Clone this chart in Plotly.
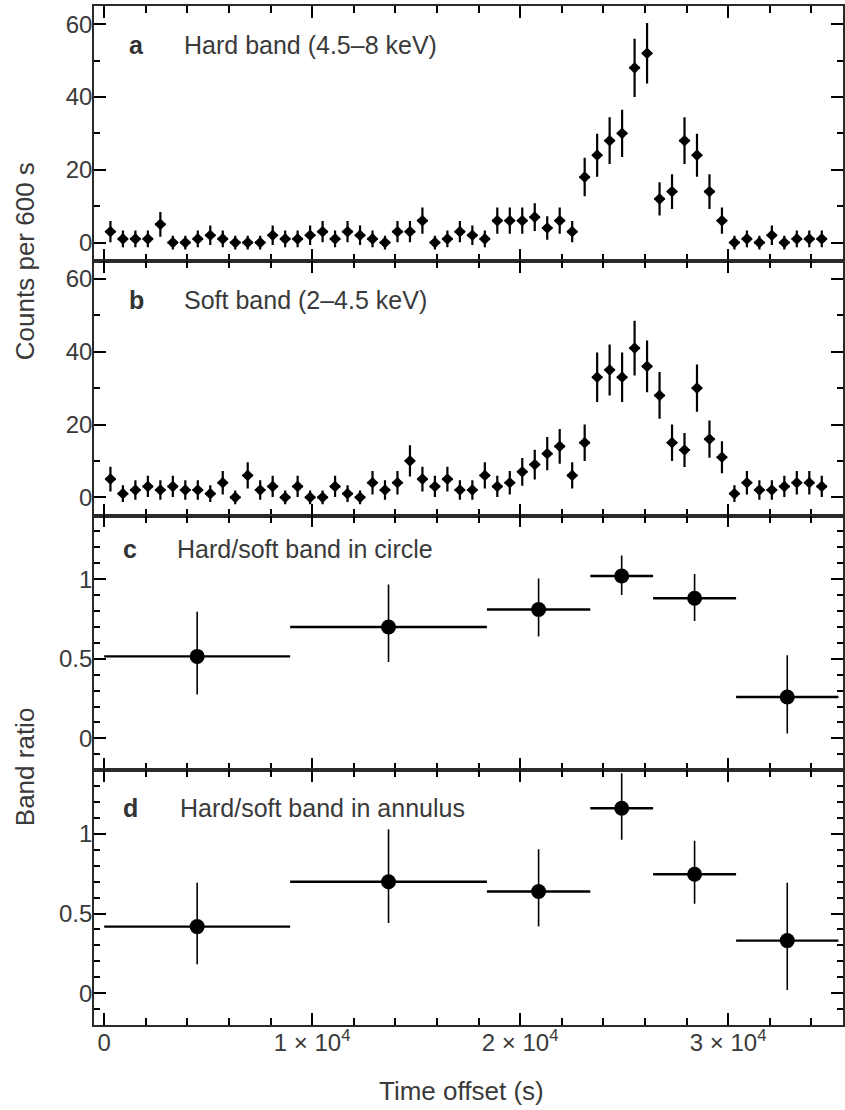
import plotly.graph_objects as go
from plotly.subplots import make_subplots

# ---------------- data ----------------
time_bins = [300, 900, 1500, 2100, 2700, 3300, 3900, 4500, 5100, 5700,
             6300, 6900, 7500, 8100, 8700, 9300, 9900, 10500, 11100, 11700,
             12300, 12900, 13500, 14100, 14700, 15300, 15900, 16500, 17100, 17700,
             18300, 18900, 19500, 20100, 20700, 21300, 21900, 22500, 23100, 23700,
             24300, 24900, 25500, 26100, 26700, 27300, 27900, 28500, 29100, 29700,
             30300, 30900, 31500, 32100, 32700, 33300, 33900, 34500]

hard_counts = [3, 1, 1, 1, 5, 0, 0, 1, 2, 1,
               0, 0, 0, 2, 1, 1, 2, 3, 1, 3,
               2, 1, 0, 3, 3, 6, 0, 1, 3, 2,
               1, 6, 6, 6, 7, 4, 6, 3, 18, 24,
               28, 30, 48, 52, 12, 14, 28, 24, 14, 6,
               0, 1, 0, 2, 0, 1, 1, 1]
hard_err = [2.9, 2.3, 2.3, 2.3, 3.4, 1.9, 1.9, 2.3, 2.7, 2.3,
            1.9, 1.9, 1.9, 2.7, 2.3, 2.3, 2.7, 2.9, 2.3, 2.9,
            2.7, 2.3, 1.9, 2.9, 2.9, 3.6, 1.9, 2.3, 2.9, 2.7,
            2.3, 3.6, 3.6, 3.6, 3.8, 3.2, 3.6, 2.9, 5.3, 5.9,
            6.4, 6.5, 8.0, 8.3, 4.6, 4.8, 6.4, 5.9, 4.8, 3.6,
            1.9, 2.3, 1.9, 2.7, 1.9, 2.3, 2.3, 2.3]

soft_counts = [5, 1, 2, 3, 2, 3, 2, 2, 1, 4,
               0, 6, 2, 3, 0, 3, 0, 0, 3, 1,
               0, 4, 2, 4, 10, 5, 3, 5, 2, 2,
               6, 3, 4, 7, 9, 12, 14, 6, 15, 33,
               35, 33, 41, 36, 28, 15, 13, 30, 16, 11,
               1, 4, 2, 2, 3, 4, 4, 3]
soft_err = [3.4, 2.3, 2.7, 2.9, 2.7, 2.9, 2.7, 2.7, 2.3, 3.2,
            1.9, 3.6, 2.7, 2.9, 1.9, 2.9, 1.9, 1.9, 2.9, 2.3,
            1.9, 3.2, 2.7, 3.2, 4.3, 3.4, 2.9, 3.4, 2.7, 2.7,
            3.6, 2.9, 3.2, 3.8, 4.1, 4.6, 4.8, 3.6, 5.0, 6.8,
            7.0, 6.8, 7.5, 7.1, 6.4, 5.0, 4.7, 6.5, 5.1, 4.4,
            2.3, 3.2, 2.7, 2.7, 2.9, 3.2, 3.2, 2.9]
count_halfwidth = [250] * 58

ratio_t = [4470, 13670, 20885, 24880, 28385, 32840]
ratio_halfwidth = [4470, 4730, 2485, 1510, 1995, 2460]

circle_ratio = [0.515, 0.70, 0.81, 1.02, 0.88, 0.26]
circle_err_up = [0.28, 0.266, 0.195, 0.128, 0.153, 0.262]
circle_err_dn = [0.24, 0.22, 0.17, 0.12, 0.143, 0.229]

annulus_ratio = [0.418, 0.70, 0.638, 1.161, 0.747, 0.33]
annulus_err_up = [0.276, 0.33, 0.266, 0.22, 0.21, 0.364]
annulus_err_dn = [0.236, 0.26, 0.22, 0.198, 0.186, 0.31]

x_tick_vals = [0, 10000, 20000, 30000]
x_tick_text = ["0", "1 × 10<sup>4</sup>", "2 × 10<sup>4</sup>", "3 × 10<sup>4</sup>"]

panel_labels = ["a", "b", "c", "d"]
panel_titles = ["Hard band (4.5–8 keV)", "Soft band (2–4.5 keV)",
                "Hard/soft band in circle", "Hard/soft band in annulus"]

# ---------------- style ----------------
FONT = "Liberation Sans, Arial, Helvetica, sans-serif"
TXT = "#3a3a3a"
LINE = "#2a2a2a"
W, H = 845, 1110
ML, MR, MT, MB = 94, 0, 6, 85
PW, PH = W - ML - MR, H - MT - MB
XRANGE = [-490, 35520]
YRANGES = [[-5, 65], [-5, 65], [-0.2, 1.4], [-0.2, 1.4]]
YMAJOR = [20, 20, 0.5, 0.5]
YMINOR = [10, 10, 0.1, 0.1]


def px_x(px):
    return (px - ML) / PW


def px_y(py):
    return (H - MB - py) / PH


fig = make_subplots(rows=4, cols=1, shared_xaxes=True, vertical_spacing=0)

for i, (cnt, err) in enumerate([(hard_counts, hard_err), (soft_counts, soft_err)]):
    fig.add_trace(go.Scatter(
        x=time_bins, y=cnt, mode="markers",
        marker=dict(symbol="diamond", size=9, color="black"),
        error_y=dict(type="data", array=err, color="black", thickness=2.2, width=0),
        error_x=dict(type="data", array=count_halfwidth, color="black", thickness=2.2, width=0),
        showlegend=False), row=i + 1, col=1)

for i, (r, up, dn) in enumerate([(circle_ratio, circle_err_up, circle_err_dn),
                                 (annulus_ratio, annulus_err_up, annulus_err_dn)]):
    fig.add_trace(go.Scatter(
        x=ratio_t, y=r, mode="markers",
        marker=dict(symbol="circle", size=15, color="black"),
        error_y=dict(type="data", symmetric=False, array=up, arrayminus=dn,
                     color="black", thickness=1.6, width=0),
        error_x=dict(type="data", array=ratio_halfwidth, color="black",
                     thickness=2.4, width=0),
        showlegend=False), row=i + 3, col=1)

fig.update_layout(
    template="simple_white",
    width=W, height=H,
    margin=dict(l=ML, r=MR, t=MT, b=MB),
    paper_bgcolor="white", plot_bgcolor="white",
    font=dict(family=FONT, size=24, color=TXT),
    showlegend=False,
)

fig.update_xaxes(
    range=XRANGE,
    tickmode="array", tickvals=x_tick_vals, ticktext=x_tick_text,
    ticks="inside", ticklen=12, tickwidth=2, tickcolor="black",
    showline=True, linewidth=1.6, linecolor=LINE, mirror="ticks",
    showgrid=False, zeroline=False,
    tickfont=dict(family=FONT, size=24, color=TXT),
)
fig.update_xaxes(showticklabels=False, row=1, col=1)
fig.update_xaxes(showticklabels=False, row=2, col=1)
fig.update_xaxes(showticklabels=False, row=3, col=1)
fig.update_xaxes(showticklabels=True, ticklabelstandoff=-5, row=4, col=1)

fig.update_yaxes(
    ticks="inside", ticklen=12, tickwidth=2, tickcolor="black",
    showline=True, linewidth=1.6, linecolor=LINE, mirror="ticks",
    showgrid=False, zeroline=False, ticklabelstandoff=-5,
    tickfont=dict(family=FONT, size=24, color=TXT),
)
for i in range(4):
    fig.update_yaxes(range=YRANGES[i], tickmode="linear", tick0=0, dtick=YMAJOR[i],
                     row=i + 1, col=1)

# overlay axes carrying the minor ticks
extra = {}
for i in range(4):
    base = "" if i == 0 else str(i + 1)
    xo = str(5 + i)
    yo = str(9 + i)
    extra["xaxis" + xo] = dict(
        overlaying="x" + base, anchor="y" + base, range=XRANGE,
        tickmode="linear", tick0=0, dtick=2000,
        ticks="inside", ticklen=7, tickwidth=2, tickcolor="black",
        showline=False, mirror="ticks", showticklabels=False,
        showgrid=False, zeroline=False, side="bottom", fixedrange=True)
    extra["yaxis" + yo] = dict(
        overlaying="y" + base, anchor="x" + base, range=YRANGES[i],
        tickmode="linear", tick0=0, dtick=YMINOR[i],
        ticks="inside", ticklen=6, tickwidth=2, tickcolor="black",
        showline=False, mirror="ticks", showticklabels=False,
        showgrid=False, zeroline=False, side="left", fixedrange=True)
fig.update_layout(**extra)
for i in range(4):
    base = "" if i == 0 else str(i + 1)
    fig.add_trace(go.Scatter(x=[], y=[], xaxis="x" + str(5 + i), yaxis="y" + base,
                             mode="markers", showlegend=False, hoverinfo="skip"))
    fig.add_trace(go.Scatter(x=[], y=[], xaxis="x" + base, yaxis="y" + str(9 + i),
                             mode="markers", showlegend=False, hoverinfo="skip"))

label_y_px = [45, 300, 549, 808]
letter_x_px = [127, 127, 121, 121]
title_x_px = [182, 182, 175, 178]
for i in range(4):
    fig.add_annotation(xref="paper", yref="paper", x=px_x(letter_x_px[i]), y=px_y(label_y_px[i]),
                       xanchor="left", yanchor="middle", showarrow=False,
                       text="<b>" + panel_labels[i] + "</b>",
                       font=dict(family=FONT, size=25, color="#333"))
    fig.add_annotation(xref="paper", yref="paper", x=px_x(title_x_px[i]), y=px_y(label_y_px[i]),
                       xanchor="left", yanchor="middle", showarrow=False,
                       text=panel_titles[i],
                       font=dict(family=FONT, size=25, color=TXT))

fig.add_annotation(xref="paper", yref="paper", x=px_x(25), y=px_y(261),
                   xanchor="center", yanchor="middle", showarrow=False, textangle=-90,
                   text="Counts per 600 s", font=dict(family=FONT, size=26, color=TXT))
fig.add_annotation(xref="paper", yref="paper", x=px_x(25), y=px_y(767),
                   xanchor="center", yanchor="middle", showarrow=False, textangle=-90,
                   text="Band ratio", font=dict(family=FONT, size=26, color=TXT))
fig.add_annotation(xref="paper", yref="paper", x=px_x(462), y=px_y(1091),
                   xanchor="center", yanchor="middle", showarrow=False,
                   text="Time offset (s)", font=dict(family=FONT, size=26, color=TXT))

fig.write_html("out.html")
